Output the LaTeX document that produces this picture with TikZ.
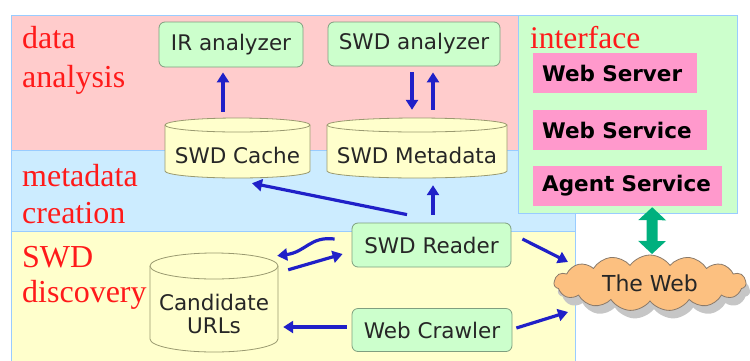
\documentclass[tikz,border=0pt]{standalone}
\usepackage{fontspec}
\setmainfont{Liberation Serif}
\setsansfont{DejaVu Sans}
\usetikzlibrary{shapes.symbols,arrows.meta,calc}

\definecolor{bandpink}{HTML}{FFCCCC}
\definecolor{bandblue}{HTML}{CCECFF}
\definecolor{bandyellow}{HTML}{FFFFCC}
\definecolor{bandgreen}{HTML}{CCFFCC}
\definecolor{bandline}{HTML}{99CCFF}
\definecolor{boxgreen}{HTML}{CCFFCC}
\definecolor{boxedge}{HTML}{7F9F7F}
\definecolor{cylfill}{HTML}{FFFFCC}
\definecolor{cyledge}{HTML}{9A9A70}
\definecolor{boxpink}{HTML}{FF99CC}
\definecolor{lblred}{HTML}{FF1A1A}
\definecolor{arrowblue}{HTML}{2020C8}
\definecolor{arrowgreen}{HTML}{00B07E}
\definecolor{cloudfill}{HTML}{FCC080}
\definecolor{cloudedge}{HTML}{8A7A6A}

\newcommand\drawcyl[5]{%
  \filldraw[cylbody] (#1,#2+#5) -- (#1,#4-#5)
    arc[start angle=180,end angle=0,x radius={(#3-#1)/2},y radius=#5]
    -- (#3,#2+#5)
    arc[start angle=0,end angle=-180,x radius={(#3-#1)/2},y radius=#5] -- cycle;
  \draw[cylbody] (#1,#2+#5)
    arc[start angle=180,end angle=0,x radius={(#3-#1)/2},y radius=#5];
}

\begin{document}
\begin{tikzpicture}[x=1pt,y=-1pt,
  band/.style={draw=bandline,line width=1pt},
  redlbl/.style={anchor=base west,inner sep=0pt,text=lblred,font=\fontsize{32}{38}\selectfont},
  gbox/.style={draw=boxedge,fill=boxgreen,rounded corners=6pt,line width=0.8pt,inner sep=0pt,
               font=\sffamily\fontsize{21.5}{25}\selectfont,text=black!85},
  pbox/.style={fill=boxpink,anchor=west,inner xsep=9pt,inner ysep=0pt,minimum height=40pt,
               align=left,font=\sffamily\bfseries\fontsize{21.5}{25}\selectfont},
  cylbody/.style={draw=cyledge,fill=cylfill,line width=0.8pt},
  cyltext/.style={inner sep=0pt,align=center,font=\sffamily\fontsize{21.5}{25}\selectfont,text=black!85},
  arr/.style={draw=arrowblue,line width=3.2pt,-{Triangle[length=10pt,width=12pt]}},
  webcloud/.style={cloud,cloud puffs=15,cloud puff arc=110,aspect=3.4,minimum width=192pt,minimum height=56pt,inner sep=0pt}
]
\useasboundingbox (0,0) rectangle (750,360);

% bands
\filldraw[band,fill=bandpink] (11,15) rectangle (518,150);
\filldraw[band,fill=bandblue] (11,150) rectangle (575,231);
\filldraw[band,fill=bandyellow] (11,231) rectangle (575,366);
\filldraw[band,fill=bandgreen] (518,15) rectangle (737,213);

% band labels
\node[redlbl] (l1a) at (22,48) {data};
\node[redlbl] (l1b) at (22,87) {analysis};
\node[redlbl] (l2a) at (22,186) {metadata};
\node[redlbl] (l2b) at (22,223) {creation};
\node[redlbl] (l3a) at (22,267) {SWD};
\node[redlbl] (l3b) at (22,302) {discovery};
\node[redlbl,font=\fontsize{31.5}{38}\selectfont] (l4a) at (530,48) {interface};

% interface boxes
\node[pbox,text width=146pt] (wserver) at (533,73) {Web Server};
\node[pbox,text width=156pt] (wservice) at (533,130) {Web Service};
\node[pbox,text width=171pt] (agent) at (533,186) {Agent Service};

% analyzers
\node[gbox,minimum width=144pt,minimum height=45pt] (ir) at (231,44.5) {IR analyzer};
\node[gbox,minimum width=172pt,minimum height=44pt] (swda) at (414,44) {SWD analyzer};

% cylinders
\drawcyl{165}{118}{310}{178}{7}
\node[cyltext,minimum width=145pt,minimum height=46pt] (cache) at (237.5,155) {SWD Cache};
\drawcyl{327}{118}{507}{178}{7}
\node[cyltext,minimum width=180pt,minimum height=46pt] (meta) at (417,155) {SWD Metadata};
\drawcyl{150}{253}{278}{352}{13}
\node[cyltext,minimum width=128pt,minimum height=70pt] (cand) at (214,314) {Candidate\\[-2pt]URLs};

% reader / crawler
\node[gbox,minimum width=159pt,minimum height=44pt] (reader) at (431.5,245) {SWD Reader};
\node[gbox,minimum width=160pt,minimum height=43pt] (crawler) at (432,330) {Web Crawler};

% the web
\node[webcloud,fill=gray!45] (webshadow) at (654,291) {};
\node[webcloud,draw=cloudedge,fill=cloudfill,line width=0.8pt,
      font=\sffamily\fontsize{22}{25}\selectfont,text=black!85] (web) at (650,283) {The Web};

\coordinate (webin1) at (568,262);
\coordinate (webin2) at (568,312);
\coordinate (webtop) at (652,254);

% arrows
\draw[arr] ($(cache.north)+(-14.5,-20)$) -- ($(ir.south)+(-8,5)$);
\draw[arr] ($(swda.south)+(-2,6)$) -- ($(meta.north)+(-5,-22)$);
\draw[arr] ($(meta.north)+(16,-22)$) -- ($(swda.south)+(19,6)$);
\draw[arr] ($(reader.north)+(-24.5,-8)$) -- ($(cache.south)+(14.5,5)$);
\draw[arr] ($(reader.north)+(1.5,-8)$) -- ($(meta.south)+(16,7)$);
\draw[arr] ($(reader.west)+(-17,-6)$) .. controls (310,236) and (306,252) .. ($(cand.north east)+(-1,-23)$);
\draw[arr] ($(cand.north east)+(10,-9)$) -- ($(reader.west)+(-9,9)$);
\draw[arr] ($(crawler.west)+(-5,-3)$) -- ($(cand.east)+(5,13)$);
\draw[arr] ($(reader.east)+(11,-6)$) -- (webin1);
\draw[arr] ($(crawler.east)+(4,-2)$) -- (webin2);
\draw[draw=arrowgreen,line width=11pt,
      {Triangle[length=13pt,width=27pt]}-{Triangle[length=13pt,width=27pt]}]
      ($(agent.south)+(24.5,1)$) -- (webtop);
\end{tikzpicture}
\end{document}
